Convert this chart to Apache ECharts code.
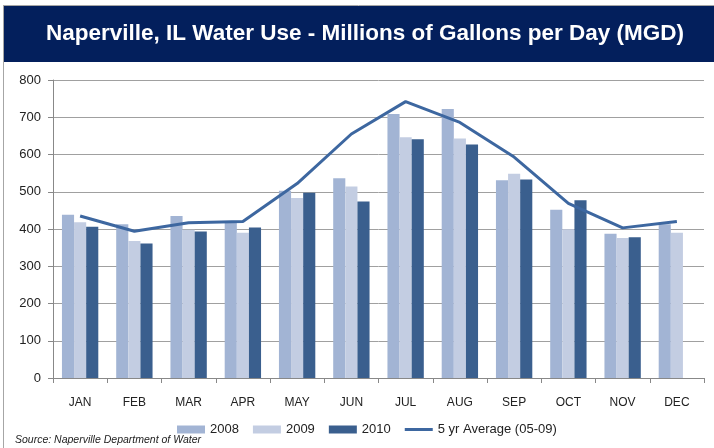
<!DOCTYPE html>
<html>
<head>
<meta charset="utf-8">
<script src="https://cdn.jsdelivr.net/npm/echarts@6/dist/echarts.min.js"></script>
<style>html,body{margin:0;padding:0;background:#fff;}#c{width:714px;height:448px;}</style>
</head>
<body>
<div id="c"></div>
<script>
var months = ['JAN','FEB','MAR','APR','MAY','JUN','JUL','AUG','SEP','OCT','NOV','DEC'];
var y2008 = [438, 413, 435, 420, 503, 536, 709, 722, 531, 452, 387, 413];
var y2009 = [418, 368, 398, 390, 483, 514, 646, 643, 548, 399, 376, 390];
var y2010 = [406, 361, 393, 404, 497, 474, 641, 627, 533, 477, 378, null];
var avg5 = [435, 394, 417, 420, 522, 655, 742, 686, 593, 469, 403, 420];
var yTicks = [0, 100, 200, 300, 400, 500, 600, 700, 800];

var chart = echarts.init(document.getElementById('c'));
var font = 'Liberation Sans, Arial, sans-serif';
chart.setOption({
  animation: false,
  textStyle: {fontFamily: font},
  graphic: [
    {type: 'line', shape: {x1: 3.5, y1: 5, x2: 3.5, y2: 448}, style: {stroke: '#A6A6A6', lineWidth: 1}},
    {type: 'line', shape: {x1: 3, y1: 5.5, x2: 714, y2: 5.5}, style: {stroke: '#A6A6A6', lineWidth: 1}},
    {type: 'rect', shape: {x: 4, y: 6, width: 710, height: 56}, style: {fill: '#031F5C'}},
    {type: 'text', x: 365, y: 34, style: {text: 'Naperville, IL Water Use - Millions of Gallons per Day (MGD)', fill: '#fff', font: 'bold 22.5px ' + font, align: 'center', verticalAlign: 'middle'}},
    {type: 'text', x: 15, y: 440, style: {text: 'Source: Naperville Department of Water', fill: '#222', font: 'italic 10.5px ' + font, verticalAlign: 'middle'}}
  ],
  legend: {
    left: 177, top: 423, padding: 0,
    itemGap: 14,
    itemWidth: 28, itemHeight: 8,
    textStyle: {fontSize: 13, color: '#222'},
    data: [
      {name: '2008', icon: 'rect'},
      {name: '2009', icon: 'rect'},
      {name: '2010', icon: 'rect'},
      {name: '5 yr Average (05-09)', icon: 'path://M0,0 L28,0 L28,3 L0,3 Z'}
    ]
  },
  grid: {left: 53, right: 10, top: 80, bottom: 70},
  xAxis: {
    type: 'category',
    data: months,
    axisLine: {lineStyle: {color: '#888', width: 1}},
    axisTick: {show: true, length: 5, lineStyle: {color: '#888'}},
    axisLabel: {color: '#222', fontSize: 12, margin: 19}
  },
  yAxis: {
    type: 'value', min: 0, max: 800, interval: 100,
    axisLine: {show: true, lineStyle: {color: '#888'}},
    axisTick: {show: true, length: 5, lineStyle: {color: '#888'}},
    axisLabel: {color: '#222', fontSize: 13, margin: 12, formatter: function(v){ return yTicks.indexOf(v) >= 0 ? String(v) : ''; }},
    splitLine: {lineStyle: {color: '#A0A0A0', width: 1}}
  },
  series: [
    {name: '2008', type: 'bar', data: y2008, barGap: '0%', barCategoryGap: '33%', itemStyle: {color: '#A2B4D4'}},
    {name: '2009', type: 'bar', data: y2009, itemStyle: {color: '#C3CDE2'}},
    {name: '2010', type: 'bar', data: y2010, itemStyle: {color: '#3A5F8E'}},
    {name: '5 yr Average (05-09)', type: 'line', data: avg5, symbol: 'none', lineStyle: {color: '#3D67A0', width: 3}, itemStyle: {color: '#3D67A0'}}
  ]
});
</script>
</body>
</html>
